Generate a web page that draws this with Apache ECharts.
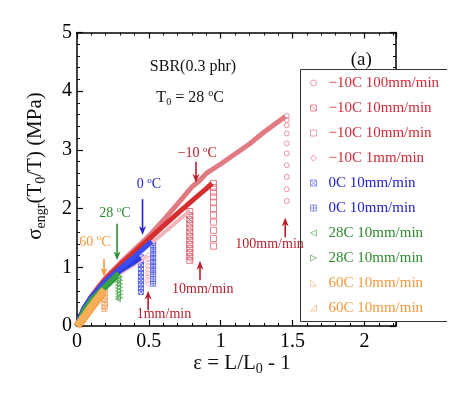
<!DOCTYPE html>
<html><head><meta charset="utf-8">
<script src="https://cdn.jsdelivr.net/npm/echarts@6/dist/echarts.min.js"></script>
<style>html,body{margin:0;padding:0;background:#fff}#c{width:465px;height:395px}</style>
</head><body><div id="c"></div>
<script>
// ---- data (strain, stress) ----
var legendLabels = ['\u221210C 100mm/min','\u221210C 10mm/min','\u221210C 10mm/min','\u221210C 1mm/min','0C 10mm/min','0C 10mm/min','28C 10mm/min','28C 10mm/min','60C 10mm/min','60C 10mm/min'];
var xTicks = [0, 0.5, 1, 1.5, 2];
var yTicks = [0, 1, 2, 3, 4, 5];

var curve1 = [[0,0],[0.02,0.13],[0.05,0.3],[0.1,0.5],[0.15,0.67],[0.2,0.82],[0.3,1.07],[0.4,1.3],[0.5,1.53],[0.6,1.8],[0.7,2.08],[0.8,2.37],[0.85,2.47],[0.9,2.6],[1.0,2.76],[1.1,2.93],[1.2,3.1],[1.3,3.3],[1.4,3.48],[1.45,3.57]];
var drop1 = [[1.46,3.58],[1.46,3.51],[1.46,3.42],[1.46,3.28],[1.46,3.11],[1.46,2.94],[1.46,2.74],[1.46,2.54],[1.46,2.33],[1.46,2.13]];
var curve2 = [[0,0],[0.05,0.28],[0.1,0.46],[0.2,0.74],[0.3,0.97],[0.4,1.18],[0.5,1.38],[0.6,1.58],[0.7,1.79],[0.78,1.95]];
var drop2 = [[0.785,1.95],[0.785,1.88],[0.785,1.81],[0.785,1.74],[0.785,1.67],[0.785,1.6],[0.785,1.53],[0.785,1.46],[0.785,1.39],[0.785,1.32],[0.785,1.25],[0.785,1.18],[0.785,1.12]];
var curve3 = [[0,0],[0.05,0.3],[0.1,0.5],[0.2,0.8],[0.3,1.04],[0.4,1.26],[0.5,1.48],[0.6,1.7],[0.7,1.92],[0.8,2.13],[0.9,2.34],[0.94,2.43]];
var drop3 = [[0.95,2.43],[0.95,2.36],[0.95,2.28],[0.95,2.2],[0.95,2.11],[0.95,2.0],[0.95,1.89],[0.95,1.77],[0.95,1.63],[0.95,1.49],[0.95,1.36]];
var curve4 = [[0,0],[0.05,0.27],[0.1,0.44],[0.2,0.7],[0.3,0.9],[0.4,1.05],[0.49,1.2]];
var drop4 = [[0.495,1.2],[0.495,1.14],[0.495,1.08],[0.495,1.02],[0.495,0.96],[0.495,0.9],[0.495,0.84],[0.495,0.78],[0.495,0.72]];
var curve5 = [[0,0],[0.05,0.3],[0.1,0.48],[0.2,0.75],[0.3,0.95],[0.4,1.1],[0.44,1.17]];
var drop5 = [[0.445,1.17],[0.445,1.1],[0.445,1.04],[0.445,0.97],[0.445,0.9],[0.445,0.84],[0.445,0.77],[0.445,0.71],[0.445,0.64],[0.445,0.58]];
var curve6 = [[0,0],[0.05,0.3],[0.1,0.49],[0.2,0.77],[0.3,0.98],[0.4,1.18],[0.5,1.4],[0.52,1.44]];
var drop6 = [[0.53,1.44],[0.53,1.37],[0.53,1.3],[0.53,1.23],[0.53,1.16],[0.53,1.09],[0.53,1.02],[0.53,0.95],[0.53,0.88],[0.53,0.8],[0.53,0.72]];
var curve7 = [[0,0],[0.05,0.26],[0.1,0.43],[0.2,0.66],[0.28,0.85]];
var drop7 = [[0.285,0.85],[0.285,0.8],[0.285,0.75],[0.285,0.7],[0.285,0.65],[0.285,0.6],[0.285,0.55],[0.285,0.5],[0.285,0.46]];
var curve8 = [[0,0],[0.05,0.27],[0.1,0.45],[0.2,0.69],[0.29,0.9]];
var drop8 = [[0.3,0.9],[0.3,0.84],[0.3,0.78],[0.3,0.72],[0.3,0.66],[0.3,0.6],[0.3,0.54],[0.3,0.48]];
var curve9 = [[0,0],[0.03,0.08],[0.06,0.18],[0.1,0.31],[0.14,0.44],[0.18,0.57]];
var drop9 = [[0.19,0.58],[0.19,0.52],[0.19,0.46],[0.19,0.4],[0.19,0.34],[0.19,0.29]];
var curve10 = [[0,0],[0.03,0.1],[0.06,0.2],[0.1,0.34],[0.14,0.47],[0.19,0.62]];
var drop10 = [[0.195,0.62],[0.195,0.56],[0.195,0.5],[0.195,0.44],[0.195,0.38],[0.195,0.32]];

var curves = [curve1,curve2,curve3,curve4,curve5,curve6,curve7,curve8,curve9,curve10];
var drops = [drop1,drop2,drop3,drop4,drop5,drop6,drop7,drop8,drop9,drop10];

// ---- styles ----
var FONT = 'Liberation Serif';
var lineColors = ['#e27a82','#f2b4b9','#d42e30','#f6c2c6','#2a3de0','#3a4cf0','#2e9a3a','#3aa044','#f7a043','#f9ae5a'];
var lineWidths = [5,4,5,4,6,5,5,5,8,7];
var markColors = ['#e07a88','#d45868','#e06470','#ee9aa4','#4a58e6','#4a58e6','#5aa85a','#5aa85a','#f2a062','#f2a062'];
var legendMarkColors = ['#e8a0aa','#e4909c','#e8a0aa','#ec98a4','#8a90e4','#8a90e4','#90c890','#90c890','#f8c8a0','#f8c8a0'];
var textColors = ['#d02a36','#d02a36','#d02a36','#d02a36','#2222c8','#2222c8','#2e8a30','#2e8a30','#f39a3c','#f39a3c'];
var symbols = ['path://M10,5A5,5 0 1,1 0,5A5,5 0 1,1 10,5Z',
  'path://M0,0H10V10H0Z M0,0L10,10',
  'path://M0,0H10V10H0Z',
  'path://M5,0L10,5L5,10L0,5Z',
  'path://M0,0H10V10H0Z M0,0L10,10 M10,0L0,10',
  'path://M0,0H10V10H0Z M5,0V10 M0,5H10',
  'path://M0,5L10,0L10,10Z',
  'path://M0,0L10,5L0,10Z',
  'path://M0,0L0,10L10,10Z',
  'path://M10,0L10,10L0,10Z'];
var symbolSizes = [5,6,6,6,5,5,5,5,5,5];
var drawOrder = [0,1,3,2,4,5,6,7,8,9];

var series = [];
drawOrder.forEach(function(i){
  series.push({type:'line', name:'s'+i, data:curves[i], showSymbol:false, symbol:'none',
    lineStyle:{color:lineColors[i], width:lineWidths[i]}, itemStyle:{color:lineColors[i]}, z:2+i, silent:true, animation:false});
});
drawOrder.forEach(function(i){
  series.push({type:'scatter', name:'s'+i, data:drops[i], symbol:symbols[i], symbolSize:symbolSizes[i],
    itemStyle:{color:'transparent', borderColor:markColors[i], borderWidth:1}, z:2, silent:true, animation:false});
});

var legendData = legendLabels.map(function(l,i){
  return {name:'s'+i, icon:symbols[i], itemStyle:{color:'transparent', borderColor:legendMarkColors[i], borderWidth:1},
    textStyle:{color:textColors[i]}};
});

var axisCommon = {min:0, axisLine:{onZero:false, lineStyle:{color:'#000', width:1.5}},
  axisTick:{inside:true, length:6, lineStyle:{color:'#000', width:1.2}},
  minorTick:{show:true, splitNumber:5, length:3, lineStyle:{color:'#000', width:1}},
  splitLine:{show:false}};

var chart = echarts.init(document.getElementById('c'), null, {renderer:'canvas'});
var option = {
  animation:false,
  backgroundColor:'#fff',
  grid:{left:77, top:32.5, right:69, bottom:69},
  xAxis:[
    Object.assign({}, axisCommon, {type:'value', position:'bottom', max:2.22, interval:0.5,
      axisLabel:{show:true, color:'#000', fontFamily:FONT, fontSize:20, margin:6,
        formatter:function(v){ return xTicks.indexOf(v)>=0 ? String(v) : ''; }}}),
    Object.assign({}, axisCommon, {type:'value', position:'top', max:2.22, interval:0.5, axisLabel:{show:false}})
  ],
  yAxis:[
    Object.assign({}, axisCommon, {type:'value', position:'left', max:5, interval:1,
      axisLabel:{show:true, color:'#000', fontFamily:FONT, fontSize:20, margin:5,
        formatter:function(v){ return yTicks.indexOf(v)>=0 ? String(v) : ''; }}}),
    Object.assign({}, axisCommon, {type:'value', position:'right', max:5, interval:1, axisLabel:{show:false}})
  ],
  legend:{orient:'vertical', left:300, top:69, padding:[6,2,5,10], itemGap:9,
    itemWidth:24, itemHeight:6, backgroundColor:'#fff', borderWidth:0, selectedMode:false, z:10,
    textStyle:{fontFamily:FONT, fontSize:15, lineHeight:16, padding:[0,0,0,-2]},
    data:legendData,
    formatter:function(n){ return legendLabels[+n.slice(1)]; }},
  series:series
};
chart.setOption(option);

// ---- annotations (data coords) ----
var textNotes = [
  {x:0.807, y:4.42, rich:[['t','SBR(0.3 phr)']], color:'#111', size:16},
  {x:0.787, y:3.88, rich:[['t','T'],['sub','0'],['t',' = 28 '],['sup','o'],['t','C']], color:'#111', size:16},
  {x:1.978, y:4.53, rich:[['t','(a)']], color:'#111', size:19}
];
var arrowNotes = [
  {lx:0.124, ly:1.43, label:[['t','60 '],['sup','o'],['t','C']], x:0.188, y1:1.14, y2:0.84, color:'#f39a3c'},
  {lx:0.264, ly:1.92, label:[['t','28 '],['sup','o'],['t','C']], x:0.279, y1:1.74, y2:1.12, color:'#2e8a30'},
  {lx:0.50, ly:2.41, label:[['t','0 '],['sup','o'],['t','C']], x:0.456, y1:2.16, y2:1.55, color:'#2222d0'},
  {lx:0.837, ly:2.94, label:[['t','\u221210 '],['sup','o'],['t','C']], x:0.828, y1:2.8, y2:2.44, color:'#b8202c'},
  {lx:1.34, ly:1.39, label:[['t','100mm/min']], x:1.449, y1:1.51, y2:1.85, color:'#b8202c'},
  {lx:0.875, ly:0.625, label:[['t','10mm/min']], x:0.856, y1:0.78, y2:1.11, color:'#b8202c'},
  {lx:0.605, ly:0.20, label:[['t','1mm/min']], x:0.495, y1:0.27, y2:0.60, color:'#b8202c'}
];

function px(x,y){ return chart.convertToPixel({xAxisIndex:0, yAxisIndex:0}, [x,y]); }
function richText(parts){ return parts.map(function(p){ return '{'+p[0]+'|'+p[1]+'}'; }).join(''); }
function richStyles(size, color){
  return {t:{fontSize:size, fontFamily:FONT, fill:color, color:color},
          sub:{fontSize:Math.round(size*0.65), fontFamily:FONT, fill:color, color:color, padding:[Math.round(size*0.55),0,0,0]},
          sup:{fontSize:Math.round(size*0.65), fontFamily:FONT, fill:color, color:color, padding:[0,0,Math.round(size*0.55),0]}};
}

var graphics = [];
textNotes.forEach(function(n){
  var p = px(n.x, n.y);
  graphics.push({type:'text', x:p[0], y:p[1], z:20, style:{text:richText(n.rich), rich:richStyles(n.size, n.color), align:'center', verticalAlign:'middle', fill:n.color}});
});
arrowNotes.forEach(function(a){
  var lp = px(a.lx, a.ly), p1 = px(a.x, a.y1), p2 = px(a.x, a.y2);
  var dir = p2[1] > p1[1] ? 1 : -1;
  var headLen = 9, headW = 3.5;
  graphics.push({type:'text', x:lp[0], y:lp[1], z:20, style:{text:richText(a.label), rich:richStyles(14, a.color), align:'center', verticalAlign:'middle', fill:a.color}});
  graphics.push({type:'line', z:20, shape:{x1:p1[0], y1:p1[1], x2:p2[0], y2:p2[1]-dir*headLen*0.6}, style:{stroke:a.color, lineWidth:1.6}});
  graphics.push({type:'polygon', z:20, shape:{points:[[p2[0],p2[1]],[p2[0]-headW,p2[1]-dir*headLen],[p2[0],p2[1]-dir*headLen*0.7],[p2[0]+headW,p2[1]-dir*headLen]]}, style:{fill:a.color}});
});
// axis titles
var ySty = richStyles(21,'#111');
ySty.sub2 = {fontSize:14, fontFamily:FONT, fill:'#111', padding:[12,0,0,0]};
graphics.push({type:'text', x:35, y:166, rotation:Math.PI/2, z:20,
  style:{text:'{t|\u03c3}{sub2|engr}{t|(T}{sub2|0}{t|/T) (MPa)}', rich:ySty, align:'center', verticalAlign:'middle'}});
graphics.push({type:'text', x:242, y:363, z:20,
  style:{text:'{t|\u03b5 = L/L}{sub2|0}{t| - 1}', rich:ySty, align:'center', verticalAlign:'middle'}});
// legend frame (open on the right)
graphics.push({type:'polyline', z:30, shape:{points:[[447,69.5],[300.5,69.5],[300.5,321.5],[447,321.5]]}, style:{stroke:'#333', lineWidth:1, fill:null}});

chart.setOption({graphic:graphics});
</script></body></html>
